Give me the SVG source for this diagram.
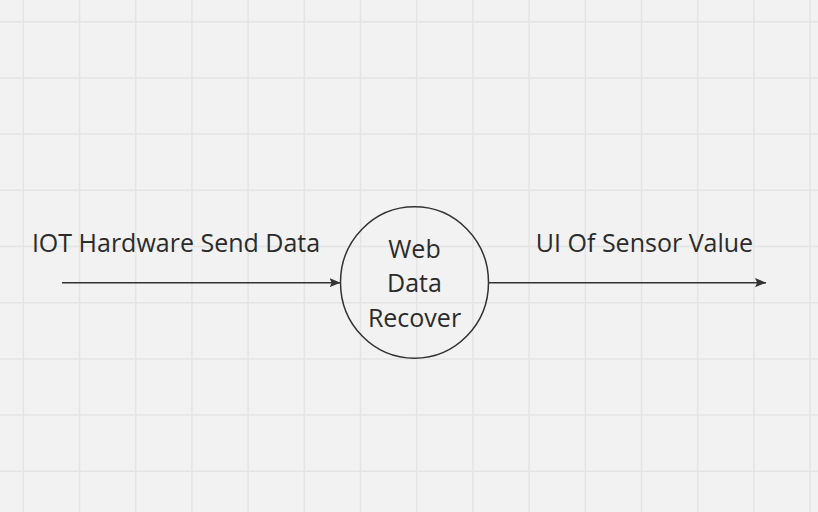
<svg xmlns="http://www.w3.org/2000/svg" width="818" height="512" viewBox="0 0 818 512">
<style>
.grid line{stroke:#e4e4e4;stroke-width:1.5}
.lbl{font-family:"Open Sans","Noto Sans",sans-serif;font-size:25px;fill:#2b2b2b;text-anchor:middle}
.conn{stroke:#333;stroke-width:1.5;fill:none;marker-end:url(#arr)}
</style>
<defs>
<marker id="arr" viewBox="0 0 10 10" refX="10" refY="5" markerWidth="11" markerHeight="11" markerUnits="userSpaceOnUse" orient="auto">
<path d="M0,0.8 L10,5 L0,9.2 L2,5 Z" fill="#333"/>
</marker>
</defs>
<rect width="818" height="512" fill="#f2f2f2"/>
<g class="grid">
<line x1="23.3" y1="0" x2="23.3" y2="512"/>
<line x1="79.5" y1="0" x2="79.5" y2="512"/>
<line x1="135.7" y1="0" x2="135.7" y2="512"/>
<line x1="191.9" y1="0" x2="191.9" y2="512"/>
<line x1="248.1" y1="0" x2="248.1" y2="512"/>
<line x1="304.3" y1="0" x2="304.3" y2="512"/>
<line x1="360.5" y1="0" x2="360.5" y2="512"/>
<line x1="416.7" y1="0" x2="416.7" y2="512"/>
<line x1="472.9" y1="0" x2="472.9" y2="512"/>
<line x1="529.1" y1="0" x2="529.1" y2="512"/>
<line x1="585.3" y1="0" x2="585.3" y2="512"/>
<line x1="641.5" y1="0" x2="641.5" y2="512"/>
<line x1="697.7" y1="0" x2="697.7" y2="512"/>
<line x1="753.9" y1="0" x2="753.9" y2="512"/>
<line x1="810.1" y1="0" x2="810.1" y2="512"/>
<line x1="0" y1="21.7" x2="818" y2="21.7"/>
<line x1="0" y1="77.9" x2="818" y2="77.9"/>
<line x1="0" y1="134.1" x2="818" y2="134.1"/>
<line x1="0" y1="190.3" x2="818" y2="190.3"/>
<line x1="0" y1="246.5" x2="818" y2="246.5"/>
<line x1="0" y1="302.7" x2="818" y2="302.7"/>
<line x1="0" y1="358.9" x2="818" y2="358.9"/>
<line x1="0" y1="415.1" x2="818" y2="415.1"/>
<line x1="0" y1="471.3" x2="818" y2="471.3"/>
</g>
<g id="connectors">
<line class="conn" x1="62" y1="282.7" x2="340.5" y2="282.7"/>
<line class="conn" x1="488.5" y1="282.7" x2="766" y2="282.7"/>
<text class="lbl" x="176" y="251.5">IOT Hardware Send Data</text>
<text class="lbl" x="644.5" y="251.5">UI Of Sensor Value</text>
</g>
<g id="node-web-data-recover">
<ellipse cx="414.5" cy="282.5" rx="74" ry="75.8" fill="none" stroke="#333" stroke-width="1.5"/>
<text class="lbl" x="414.5" y="258">Web</text>
<text class="lbl" x="414.5" y="292">Data</text>
<text class="lbl" x="414.5" y="326.5">Recover</text>
</g>
</svg>
